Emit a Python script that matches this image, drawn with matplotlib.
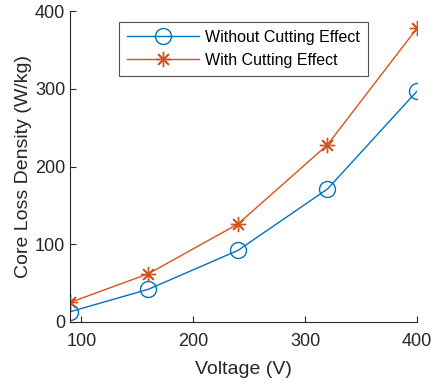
import matplotlib.pyplot as plt

# Data
voltage = [90, 160, 240, 320, 400]
loss_without = [13, 42, 92, 171, 297]
loss_with = [25, 62, 126, 228, 378]

plt.rcParams['font.family'] = ['Liberation Sans', 'DejaVu Sans']
text_color = '#262626'

fig = plt.figure(figsize=(4.33, 3.85), dpi=100)
ax = fig.add_axes([0.162, 0.164, 0.801, 0.807])

ax.plot(voltage, loss_without, '-o', color='#0072BD', lw=1, ms=11.5,
        mfc='none', mew=1, label='Without Cutting Effect')
ax.plot(voltage, loss_with, '-', marker=(8, 2, 0), color='#D95319', lw=1,
        ms=11, mew=1, label='With Cutting Effect')

ax.set_xlim(90, 400)
ax.set_ylim(0, 400)
ax.set_xticks([100, 200, 300, 400])
ax.set_yticks([0, 100, 200, 300, 400])
ax.tick_params(direction='in', length=4, width=0.8, labelsize=13,
               colors=text_color)
ax.tick_params(axis='x', pad=8)
for s in ['top', 'right']:
    ax.spines[s].set_visible(False)
for s in ['left', 'bottom']:
    ax.spines[s].set_color(text_color)
    ax.spines[s].set_linewidth(0.8)

ax.set_xlabel('Voltage (V)', fontsize=14, color=text_color, labelpad=8)
ax.set_ylabel('Core Loss Density (W/kg)', fontsize=14, color=text_color,
              labelpad=2)

leg = ax.legend(loc='upper left', bbox_to_anchor=(0.141, 0.965), fontsize=11.5,
                frameon=True, fancybox=False, edgecolor=text_color,
                handlelength=4.5, handletextpad=0.4, borderpad=0.5,
                labelspacing=0.5, borderaxespad=0)
leg.get_frame().set_linewidth(0.8)
for t in leg.get_texts():
    t.set_color('black')

fig.savefig('out.png', dpi=100)
